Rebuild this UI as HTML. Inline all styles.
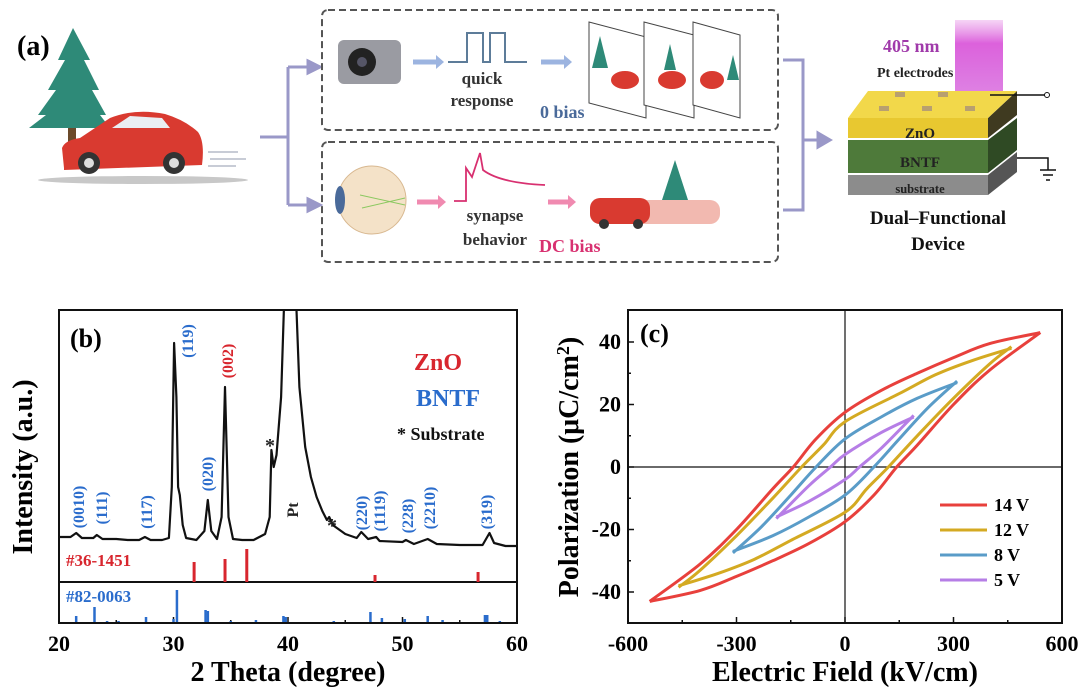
<!DOCTYPE html>
<html><head><meta charset="utf-8"><style>
html,body{margin:0;padding:0;background:#fff}
svg{display:block}
text{font-family:"Liberation Serif",serif;font-weight:bold}
</style></head><body>
<svg id="fig" width="1080" height="689" viewBox="0 0 1080 689" xmlns="http://www.w3.org/2000/svg">
<defs>
<clipPath id="clipB"><rect x="59" y="311" width="458" height="271"/></clipPath>
<linearGradient id="beam" x1="0" y1="0" x2="0" y2="1"><stop offset="0" stop-color="#e070e0" stop-opacity="0.3"/><stop offset="0.3" stop-color="#d850d8" stop-opacity="0.9"/><stop offset="1" stop-color="#d050d8" stop-opacity="0.7"/></linearGradient>
</defs>
<rect width="1080" height="689" fill="#fff"/>

<!-- Panel (a) -->
<g>
<ellipse cx="143" cy="180" rx="105" ry="4" fill="#c8c8c8"/>
<g>
<rect x="68" y="120" width="8" height="30" fill="#6b4a2a"/>
<polygon points="73,28 58,60 65,60 48,90 56,90 38,115 46,115 29,128 110,128 100,115 106,115 92,90 99,90 84,60 90,60" fill="#2e8a78"/>
</g>
<g>
<path d="M64,168 L62,148 Q65,140 80,138 L110,118 Q135,108 165,114 Q185,120 198,132 Q205,142 202,165 L64,170 z" fill="#d93a30"/>
<path d="M112,128 L130,116 L162,118 L170,128 z" fill="#eaeef2"/>
<circle cx="89" cy="163" r="11" fill="#333"/><circle cx="89" cy="163" r="5" fill="#ddd"/>
<circle cx="174" cy="163" r="11" fill="#333"/><circle cx="174" cy="163" r="5" fill="#ddd"/>
<path d="M208,152 h30 M210,159 h36 M208,166 h28" stroke="#c8ccd6" stroke-width="2" fill="none"/>
</g>
<text x="17" y="55" font-size="28">(a)</text>
<g stroke="#9a98c8" stroke-width="3" fill="none">
<path d="M260,137 H288 M288,67 V205 M288,67 H310 M288,205 H310"/>
<path d="M308,61 L320,67 L308,73 z M308,199 L320,205 L308,211 z" fill="#9a98c8"/>
<path d="M783,60 H803 V210 H783 M803,140 H820"/>
<path d="M818,133 L830,140 L818,147 z" fill="#9a98c8"/>
</g>
<rect x="322" y="10" width="456" height="120" rx="6" fill="none" stroke="#555" stroke-width="2" stroke-dasharray="7,4"/>
<rect x="322" y="142" width="456" height="120" rx="6" fill="none" stroke="#555" stroke-width="2" stroke-dasharray="7,4"/>
<g>
<rect x="338" y="40" width="63" height="44" rx="6" fill="#9a9ba2"/>
<circle cx="362" cy="62" r="14" fill="#222"/><circle cx="362" cy="62" r="5" fill="#556"/>
</g>
<path d="M413,62 H436" stroke="#9cb4e0" stroke-width="5"/>
<path d="M436,55 L444,62 L436,69 z" fill="#9cb4e0"/>
<path d="M448,62 H467 V33 H483 V62 H490 V33 H505 V62 H527" stroke="#5d7c99" stroke-width="2" fill="none"/>
<text x="482" y="84" font-size="17" text-anchor="middle" fill="#333">quick</text>
<text x="482" y="106" font-size="17" text-anchor="middle" fill="#333">response</text>
<path d="M541,62 H564" stroke="#9cb4e0" stroke-width="5"/>
<path d="M564,55 L572,62 L564,69 z" fill="#9cb4e0"/>
<text x="540" y="118" font-size="18" fill="#4a6a9a">0 bias</text>
<g stroke="#444" stroke-width="1" fill="#fff">
<polygon points="589,22 646,37 646,118 589,103"/>
<polygon points="644,22 694,35 694,118 644,105"/>
<polygon points="693,22 740,35 740,118 693,105"/>
<polygon points="600,36 592,68 608,68" fill="#2e8a78" stroke="none"/>
<ellipse cx="625" cy="80" rx="14" ry="9" fill="#d93a30" stroke="none"/>
<ellipse cx="672" cy="80" rx="14" ry="9" fill="#d93a30" stroke="none"/>
<polygon points="670,44 664,70 676,70" fill="#2e8a78" stroke="none"/>
<ellipse cx="712" cy="80" rx="12" ry="9" fill="#d93a30" stroke="none"/>
<polygon points="733,55 727,80 739,80" fill="#2e8a78" stroke="none"/>
</g>
<g>
<ellipse cx="372" cy="200" rx="34" ry="34" fill="#f4e2c8" stroke="#d8b890"/>
<ellipse cx="340" cy="200" rx="5" ry="14" fill="#4a6a9a"/>
<path d="M360,195 L405,205 M362,208 L405,198" stroke="#8bc860"/>
</g>
<path d="M417,202 H438" stroke="#f08ab0" stroke-width="5"/>
<path d="M438,195 L446,202 L438,209 z" fill="#f08ab0"/>
<path d="M454,201 H466 V168 L472,177 L480,153 L483,170 Q500,183 545,185" stroke="#d83070" stroke-width="1.8" fill="none"/>
<text x="495" y="221" font-size="17" text-anchor="middle" fill="#333">synapse</text>
<text x="495" y="245" font-size="17" text-anchor="middle" fill="#333">behavior</text>
<text x="539" y="252" font-size="18" fill="#d83070">DC bias</text>
<path d="M548,202 H568" stroke="#f08ab0" stroke-width="5"/>
<path d="M568,195 L576,202 L568,209 z" fill="#f08ab0"/>
<g>
<polygon points="675,160 662,200 688,200" fill="#2e8a78"/>
<rect x="590" y="200" width="130" height="24" rx="10" fill="#e88070" opacity="0.55"/>
<rect x="590" y="198" width="60" height="26" rx="10" fill="#d93a30"/>
<circle cx="604" cy="224" r="5" fill="#333"/><circle cx="638" cy="224" r="5" fill="#333"/>
</g>
<rect x="955" y="20" width="48" height="78" fill="url(#beam)"/>
<text x="883" y="52" font-size="18" fill="#a03aaa">405 nm</text>
<text x="877" y="77" font-size="14" fill="#222">Pt electrodes</text>
<g>
<polygon points="848,175 988,175 988,195 848,195" fill="#8c8c8c"/>
<polygon points="988,175 1017,152 1017,172 988,195" fill="#555"/>
<polygon points="848,140 988,140 988,173 848,173" fill="#4e7a3a"/>
<polygon points="988,140 1017,118 1017,150 988,173" fill="#2f4a24"/>
<polygon points="848,118 988,118 988,138 848,138" fill="#e8c830"/>
<polygon points="988,118 1017,91 1017,115 988,138" fill="#3f3a20"/>
<polygon points="868,91 1017,91 988,118 848,118" fill="#f2d84a"/>
<g fill="#b8a070"><rect x="895" y="92" width="10" height="5"/><rect x="938" y="92" width="10" height="5"/><rect x="879" y="106" width="10" height="5"/><rect x="922" y="106" width="10" height="5"/><rect x="965" y="106" width="10" height="5"/></g>
<path d="M990,95 H1045" stroke="#111" stroke-width="1.5"/><circle cx="1047" cy="95" r="2.5" fill="#fff" stroke="#111"/>
<path d="M1017,158 H1048 V170 M1040,170 H1056 M1043,175 H1053 M1046,180 H1050" stroke="#111" stroke-width="1.5" fill="none"/>
</g>
<text x="920" y="138" font-size="15" text-anchor="middle" fill="#222">ZnO</text>
<text x="920" y="167" font-size="15" text-anchor="middle" fill="#222">BNTF</text>
<text x="920" y="193" font-size="12.5" text-anchor="middle" fill="#222">substrate</text>
<text x="938" y="224" font-size="19" text-anchor="middle" fill="#111">Dual–Functional</text>
<text x="938" y="250" font-size="19" text-anchor="middle" fill="#111">Device</text>
</g>

<g id="panelB"></g>
<g id="panelC"></g>
</svg>
<script>
const NS="http://www.w3.org/2000/svg";
function mk(parent,tag,attrs,txt){const e=document.createElementNS(NS,tag);for(const k in attrs)e.setAttribute(k,attrs[k]);if(txt!==undefined)e.textContent=txt;parent.appendChild(e);return e;}

/* ---------- Panel (b) data ---------- */
const xrdTheta=[20,21,21.5,22,23,23.3,23.8,25,26,27,27.5,28,29,29.6,29.85,30.05,30.25,30.4,30.55,30.8,31.1,32,32.7,33.0,33.3,33.8,34.2,34.5,34.8,35.2,36,37,38,38.4,38.55,38.75,39.0,39.4,39.7,39.9,40.4,40.7,41,41.5,42,42.5,43,43.4,43.6,43.9,45,46,46.4,47,47.7,48,50,50.3,51,52.2,53,55,57,57.6,58,59,60];
const xrdInt=[10,10,14,9,9,12,8,8,7,7,10,7,7,9,60,204,150,60,52,22,9,7,16,47,16,8,30,160,30,8,7,7,13,30,97,80,92,150,260,420,420,250,160,100,70,50,36,27,30,22,13,9,15,8,10,6,5,7,3,8,3,2,2,14,4,1,1];
const znoTheta=[31.8,34.5,36.4,47.6,56.6];
const znoHeight=[20,23,33,7,10];
const bntfTheta=[21.5,23.1,24.2,25.2,27.6,30.0,30.3,32.8,33.0,35.0,37.2,39.6,39.8,44.0,47.2,48.2,50.2,52.2,53.5,57.2,57.4,58.5];
const bntfHeight=[7,16,2,2,6,4,33,13,12,2,3,7,6,2,11,5,4,7,3,8,8,2];
const bxTicks=[20,30,40,50,60];
const bxLabels=["20","30","40","50","60"];
const peakLabels=["(0010)","(111)","(117)","(119)","(020)","(002)","(220)","(1119)","(228)","(2210)","(319)"];
const peakTheta=[21.75,23.76,27.69,31.27,33.0,34.76,46.46,48.03,50.48,52.4,57.38];
const peakLabelY=[507,508,512,341,474,361,513,511,516,508,512];
const peakIsZnO=[0,0,0,0,0,1,0,0,0,0,0];

const bx=t=>59+(t-20)*(458/40);
const byMain=v=>547-v;
const byZno=v=>582-v;
const byBntf=v=>623-v;
const B=document.getElementById('panelB');

const frameB=mk(B,'rect',{x:59,y:310,width:458,height:313,fill:'none',stroke:'#111','stroke-width':2});


const div=mk(B,'line',{x1:59,x2:517,y1:582,y2:582,stroke:'#111','stroke-width':2});



for(let t=20;t<=60;t+=5){
  const major=bxTicks.indexOf(t)>=0;
  const tk=mk(B,'line',{x1:bx(t),x2:bx(t),y1:623,y2:623-(major?6:3),stroke:'#111','stroke-width':1.5});
  
  
}
bxTicks.forEach((t,i)=>{
  const l=mk(B,'text',{x:bx(t),y:651,'font-size':22,'text-anchor':'middle'},bxLabels[i]);
  
  
});
const bxt=mk(B,'text',{x:288,y:681,'font-size':28,'text-anchor':'middle'},'2 Theta (degree)');


const byt=mk(B,'text',{x:0,y:0,'font-size':28,'text-anchor':'middle',transform:'translate(32,467) rotate(-90)'},'Intensity (a.u.)');



const gClip=mk(B,'g',{'clip-path':'url(#clipB)'});
const pts=xrdTheta.map((t,i)=>bx(t).toFixed(1)+','+byMain(xrdInt[i]).toFixed(1)).join(' ');
const curve=mk(gClip,'polyline',{points:pts,fill:'none',stroke:'#111','stroke-width':2.2,'stroke-linejoin':'round'});



znoTheta.forEach((t,i)=>{
  const s=mk(B,'line',{x1:bx(t),x2:bx(t),y1:582,y2:byZno(znoHeight[i]),stroke:'#d8262e','stroke-width':3});
  
  
});
bntfTheta.forEach((t,i)=>{
  const s=mk(B,'line',{x1:bx(t),x2:bx(t),y1:622,y2:byBntf(bntfHeight[i]),stroke:'#2a6ccc','stroke-width':2.5});
  
  
});
peakLabels.forEach((lab,i)=>{
  const x=bx(peakTheta[i]),y=peakLabelY[i];
  const t=mk(B,'text',{x:0,y:0,'font-size':16,'text-anchor':'middle',fill:peakIsZnO[i]?'#d8262e':'#2a6ccc',transform:`translate(${x+5},${y}) rotate(-90)`},lab);
  
  
});
const pt=mk(B,'text',{x:0,y:0,'font-size':16,'text-anchor':'middle',fill:'#222',transform:'translate(298,510) rotate(-90)'},'Pt');


[[270,452],[332,532]].forEach(p=>{
  const a=mk(B,'text',{x:p[0],y:p[1],'font-size':20,'text-anchor':'middle',fill:'#222'},'*');
  
  
});
const lb=mk(B,'text',{x:70,y:347,'font-size':26},'(b)');


const l1=mk(B,'text',{x:438,y:370,'font-size':24,'text-anchor':'middle',fill:'#d8262e'},'ZnO');


const l2=mk(B,'text',{x:448,y:406,'font-size':24,'text-anchor':'middle',fill:'#2a6ccc'},'BNTF');


const l3=mk(B,'text',{x:397,y:440,'font-size':18,fill:'#111'},'* Substrate');


const r1=mk(B,'text',{x:66,y:566,'font-size':17,fill:'#d8262e'},'#36-1451');


const r2=mk(B,'text',{x:66,y:602,'font-size':17,fill:'#2a6ccc'},'#82-0063');



/* ---------- Panel (c) data ---------- */
const loopNames=["14 V","12 V","8 V","5 V"];
const loopColors=["#e8403c","#d4aa22","#5a9cc8","#b67ee6"];
const upperE14=[540,400,300,200,100,0,-80,-143,-200,-300,-400,-540];
const upperP14=[43,39.5,35,30,24.5,17.5,9,0,-7,-20,-31,-43];
const upperE12=[460,350,250,150,0,-60,-120,-200,-300,-400,-460];
const upperP12=[38,34,29.5,23.5,14.5,7,0,-10,-22,-33,-38.5];
const upperE8=[310,200,100,0,-80,-150,-230,-310];
const upperP8=[27,22,16,9,0,-9,-19,-27.5];
const upperE5=[190,100,0,-40,-100,-190];
const upperP5=[16,11,4,0,-6,-16.5];
const loopE=[upperE14,upperE12,upperE8,upperE5];
const loopP=[upperP14,upperP12,upperP8,upperP5];
const cxTicks=[-600,-300,0,300,600];
const cyTicks=[-40,-20,0,20,40];

const cx=e=>845+e*(434/1200);
const cy=p=>467-p*3.125;
const C=document.getElementById('panelC');

function smooth(p){
  let d=`M${p[0][0].toFixed(1)},${p[0][1].toFixed(1)}`;
  for(let i=0;i<p.length-1;i++){
    const p0=p[Math.max(0,i-1)],p1=p[i],p2=p[i+1],p3=p[Math.min(p.length-1,i+2)];
    const c1=[p1[0]+(p2[0]-p0[0])/6,p1[1]+(p2[1]-p0[1])/6];
    const c2=[p2[0]-(p3[0]-p1[0])/6,p2[1]-(p3[1]-p1[1])/6];
    d+=` C${c1[0].toFixed(1)},${c1[1].toFixed(1)} ${c2[0].toFixed(1)},${c2[1].toFixed(1)} ${p2[0].toFixed(1)},${p2[1].toFixed(1)}`;
  }
  return d;
}

const zx=mk(C,'line',{x1:cx(0),x2:cx(0),y1:310,y2:623,stroke:'#111','stroke-width':1.2});


const zy=mk(C,'line',{x1:628,x2:1062,y1:cy(0),y2:cy(0),stroke:'#111','stroke-width':1.2});



loopE.forEach((Es,k)=>{
  const up=Es.map((e,i)=>[cx(e),cy(loopP[k][i])]);
  const low=Es.map((e,i)=>[cx(-e),cy(-loopP[k][i])]);
  const path=mk(C,'path',{d:smooth(up)+' '+smooth(low),fill:'none',stroke:loopColors[k],'stroke-width':3,'stroke-linejoin':'round'});
  
  
});

const frameC=mk(C,'rect',{x:628,y:310,width:434,height:313,fill:'none',stroke:'#111','stroke-width':2});


for(let e=-600;e<=600;e+=150){
  const major=cxTicks.indexOf(e)>=0;
  const tk=mk(C,'line',{x1:cx(e),x2:cx(e),y1:623,y2:623-(major?6:3),stroke:'#111','stroke-width':1.5});
  
  
}
for(let p=-40;p<=40;p+=10){
  const major=cyTicks.indexOf(p)>=0;
  const tk=mk(C,'line',{x1:628,x2:628+(major?6:3),y1:cy(p),y2:cy(p),stroke:'#111','stroke-width':1.5});
  
  
}
cxTicks.forEach(e=>{
  const l=mk(C,'text',{x:cx(e),y:651,'font-size':22,'text-anchor':'middle'},String(e));
  
  
});
cyTicks.forEach(p=>{
  const l=mk(C,'text',{x:621,y:cy(p)+7,'font-size':22,'text-anchor':'end'},String(p));
  
  
});
const cxt=mk(C,'text',{x:845,y:681,'font-size':28,'text-anchor':'middle'},'Electric Field (kV/cm)');


const cyt=mk(C,'text',{x:0,y:0,'font-size':28,'text-anchor':'middle',transform:'translate(578,467) rotate(-90)'});


cyt.textContent='Polarization (μC/cm';
const sup=mk(cyt,'tspan',{dy:-9,'font-size':18},'2');
const cl=mk(cyt,'tspan',{dy:9},')');
const lc=mk(C,'text',{x:640,y:342,'font-size':26},'(c)');


loopNames.forEach((n,k)=>{
  const y=505+k*25;
  const ln=mk(C,'line',{x1:940,x2:987,y1:y,y2:y,stroke:loopColors[k],'stroke-width':3});
  
  
  const t=mk(C,'text',{x:994,y:y+6,'font-size':18},n);
  
  
});
</script>
</body></html>
